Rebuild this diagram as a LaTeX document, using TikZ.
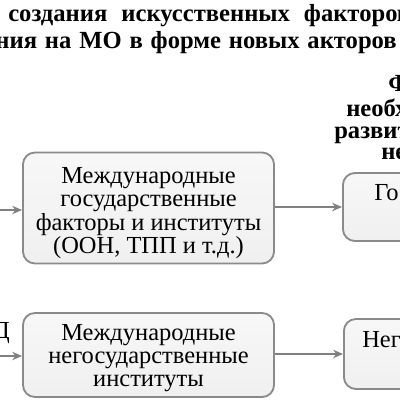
\documentclass[tikz,border=0pt]{standalone}
\usepackage{fontspec}
\setmainfont{Liberation Serif}
\usetikzlibrary{arrows.meta}
\definecolor{rahmen}{RGB}{138,138,138}
\definecolor{pfeil}{RGB}{128,128,128}

\tikzset{
  kasten/.style={draw=rahmen, line width=1.3pt, rounded corners=0.3cm,
    top color=gray!6, middle color=gray!22, bottom color=gray!12,
    align=center, inner sep=0pt, font=\fontsize{17.4}{16.6}\selectfont},
  kopf/.style={font=\fontsize{17.5}{20}\selectfont\bfseries, inner sep=0pt},
  pfl/.style={draw=pfeil, line width=1pt, -{Stealth[length=7pt,width=6pt]}}
}

\begin{document}
\begin{tikzpicture}[x=0.025cm, y=-0.025cm]
\useasboundingbox (0,0) rectangle (400,400);
\clip (0,0) rectangle (400,400);
% Titel
\node[kopf, anchor=base west] (titel1) at (8,22) {\spaceskip=10pt создания искусственных факторов};
\node[kopf, anchor=base east] (titel2) at (397,49) {\spaceskip=5.6pt ния на МО в форме новых акторов};
% rechte Spalte, Kopf
\node[kopf, anchor=base west] (rk1) at (388,92) {Ф};
\node[kopf, anchor=base west] (rk2) at (346,117) {необх};
\node[kopf, anchor=base west] (rk3) at (334,139) {развит};
\node[kopf, anchor=base west] (rk4) at (381,160) {не};
% Kaesten
\node[kasten, minimum width=6.275cm, minimum height=2.775cm] (staat) at (148.5,208)
  {\rule{0pt}{18.5pt}Международные\\государственные\\факторы и институты\\(ООН, ТПП и т.д.)};
\node[kasten, minimum width=6.275cm, minimum height=2.1cm] (nstaat) at (148.5,355)
  {\rule{0pt}{16pt}Международные\\негосударственные\\институты};
\node[kasten, anchor=west, minimum width=4.5cm, minimum height=1.7cm] (gos) at (342,207) {};
\node[kasten, anchor=west, minimum width=4.5cm, minimum height=1.75cm] (neg) at (343,354) {};
\node[font=\fontsize{17.4}{16.6}\selectfont, anchor=base west, inner sep=0pt] (gostxt) at (374,200) {Го};
\node[font=\fontsize{17.4}{16.6}\selectfont, anchor=base west, inner sep=0pt] (negtxt) at (362,347) {Него};
\node[font=\fontsize{17.4}{16.6}\selectfont, anchor=base east, inner sep=0pt] (d) at (10,338) {Д};
% Pfeile
\coordinate (ein1) at (-5,210);
\coordinate (ein2) at (-5,356);
\draw[pfl] (ein1) -- (staat.west|-ein1);
\draw[pfl] (ein2) -- (nstaat.west|-ein2);
\draw[pfl] (staat.east|-gos.west) -- (gos.west);
\draw[pfl] (nstaat.east|-neg.west) -- (neg.west);
\end{tikzpicture}
\end{document}
